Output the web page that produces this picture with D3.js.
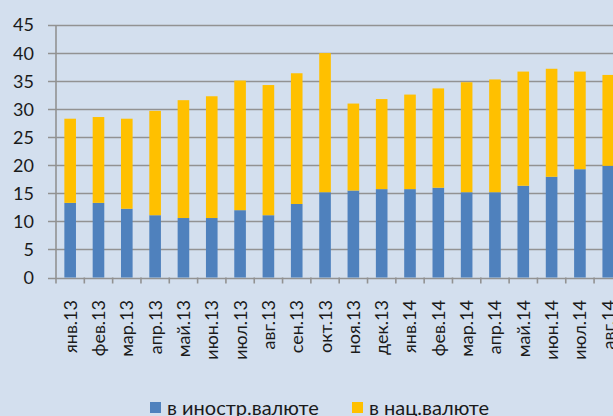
<!DOCTYPE html>
<html>
<head>
<meta charset="utf-8">
<script src="https://cdn.jsdelivr.net/npm/d3@7"></script>
<style>
  html,body{margin:0;padding:0;background:#d3dfee;}
  svg{display:block;font-family:Lato,"Liberation Sans",sans-serif;}
</style>
</head>
<body>
<div id="chartContainer"></div>
<script>
const months=["янв.13","фев.13","мар.13","апр.13","май.13","июн.13","июл.13","авг.13","сен.13","окт.13",
    "ноя.13","дек.13","янв.14","фев.14","мар.14","апр.14","май.14","июн.14","июл.14","авг.14"];
// в иностр.валюте
const foreign=[13.3,13.3,12.25,11.1,10.6,10.6,12.0,11.1,13.1,15.2,
    15.5,15.75,15.75,16.0,15.2,15.2,16.35,17.95,19.3,19.9];
// в нац.валюте
const national=[15.0,15.3,16.05,18.6,21.0,21.7,23.1,23.2,23.3,24.8,
    15.5,16.05,16.85,17.7,19.6,20.1,20.35,19.25,17.4,16.2];
const yTicks=[0,5,10,15,20,25,30,35,40,45];
const keys=["в иностр.валюте","в нац.валюте"];

const W=613,H=416;
const margin={left:56,bottom:277.5,top:25};

const data=months.map((m,i)=>({month:m,"в иностр.валюте":foreign[i],"в нац.валюте":national[i]}));

const svg=d3.select("#chartContainer")
    .append("svg")
    .attr("width",W)
    .attr("height",H);

svg.append("rect").attr("width",W).attr("height",H).attr("fill","#d3dfee");

const x=d3.scaleBand()
    .domain(months)
    .range([margin.left,margin.left+20*28.32]);
const y=d3.scaleLinear()
    .domain([0,45])
    .range([margin.bottom,margin.top]);
const color=d3.scaleOrdinal().domain(keys).range(["#4f81bd","#ffc000"]);
const barW=x.bandwidth()*0.41;

// gridlines
svg.append("g")
    .selectAll("line")
    .data(yTicks)
    .join("line")
    .attr("x1",48)
    .attr("x2",W)
    .attr("y1",d=>Math.round(y(d))+0.5)
    .attr("y2",d=>Math.round(y(d))+0.5)
    .attr("stroke","#929292")
    .attr("stroke-width",1.6);

// y labels
svg.append("g")
    .selectAll("text")
    .data(yTicks)
    .join("text")
    .attr("x",34)
    .attr("y",d=>y(d))
    .attr("dy","0.36em")
    .attr("text-anchor","end")
    .attr("font-size",18)
    .attr("fill","#1a1a1a")
    .text(d=>d);

// bars
const stacked=d3.stack().keys(keys)(data);
svg.append("g")
    .selectAll("g")
    .data(stacked)
    .join("g")
    .attr("fill",d=>color(d.key))
    .selectAll("rect")
    .data(d=>d)
    .join("rect")
    .attr("x",d=>x(d.data.month)+(x.bandwidth()-barW)/2)
    .attr("y",d=>y(d[1]))
    .attr("width",barW)
    .attr("height",d=>y(d[0])-y(d[1]));

// axis lines and ticks
const axis=svg.append("g").attr("stroke","#929292").attr("stroke-width",1.6);
axis.append("line")
    .attr("x1",margin.left).attr("x2",margin.left)
    .attr("y1",margin.top).attr("y2",margin.bottom+6);
axis.selectAll(".tick")
    .data(months)
    .join("line")
    .attr("class","tick")
    .attr("x1",d=>x(d)+x.step())
    .attr("x2",d=>x(d)+x.step())
    .attr("y1",margin.bottom)
    .attr("y2",margin.bottom+6);

// x labels
svg.append("g")
    .selectAll("text")
    .data(months)
    .join("text")
    .attr("transform",d=>`translate(${x(d)+x.bandwidth()/2},300) rotate(-90)`)
    .attr("dy","0.36em")
    .attr("text-anchor","end")
    .attr("font-size",18)
    .attr("fill","#1a1a1a")
    .text(d=>d);

// legend
const legendX=[150,352];
const lg=svg.append("g");
lg.selectAll("rect")
    .data(keys)
    .join("rect")
    .attr("x",(d,i)=>legendX[i])
    .attr("y",402)
    .attr("width",11)
    .attr("height",11)
    .attr("fill",d=>color(d));
lg.selectAll("text")
    .data(keys)
    .join("text")
    .attr("x",(d,i)=>legendX[i]+17)
    .attr("y",415)
    .attr("font-size",20)
    .attr("fill","#1a1a1a")
    .text(d=>d);
</script>
</body>
</html>
